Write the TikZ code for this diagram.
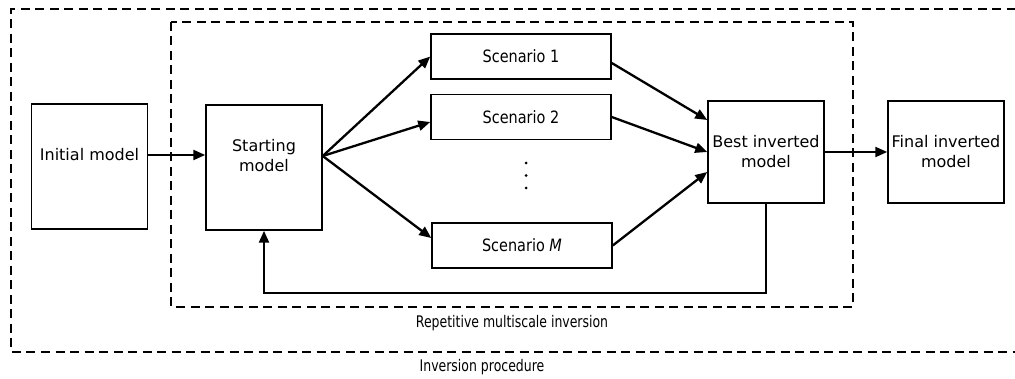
\documentclass[tikz,border=0pt]{standalone}
\usepackage{fontspec}
\setmainfont{DejaVu Sans}
\newfontfamily\narrowfont{DejaVu Sans}[FakeStretch=0.85]
\newfontfamily\captionfont{DejaVu Sans}[FakeStretch=0.78]
\usetikzlibrary{arrows.meta}

\begin{document}
\begin{tikzpicture}[x=1pt,y=-1pt,
  box/.style={draw,line width=1.5pt,minimum width=116pt,inner sep=0pt,align=center,font=\fontsize{16}{20}\selectfont},
  lbl/.style={align=center,inner sep=0pt,font=\fontsize{16}{20}\selectfont},
  scen/.style={draw,line width=1.5pt,minimum width=180pt,minimum height=45pt,inner sep=0pt,font=\narrowfont\fontsize{17}{20}\selectfont},
  flow/.style={line width=2.3pt,-{Triangle[length=12pt,width=10pt]}},
  frame/.style={line width=2.5pt,dash pattern=on 9pt off 5.5pt},
  caption/.style={font=\captionfont\fontsize{16}{19}\selectfont}]
\useasboundingbox (0,0) rectangle (1015,379);
\draw [frame] (1030,9) -- (11,9) -- (11,352) -- (1030,352);
\draw [frame] (171,22) rectangle (853,307);

\node [box,minimum height=125pt] (init) at (89.5,166.5) {};
\node [lbl] (initlbl) at (89.5,155) {Initial model};
\node [box,minimum height=125pt] (start) at (264,167.5) {};
\node [lbl] (startlbl) at (264,156) {Starting\\model};
\node [scen] (s1) at (521,56.5) {Scenario 1};
\node [scen] (s2) at (521,117) {Scenario 2};
\node [scen] (sM) at (522,245.5) {Scenario \textit{M}};
\node [box,minimum height=102pt] (best) at (766,152) {Best inverted\\model};
\node [box,minimum height=102pt] (final) at (946,152) {Final inverted\\model};
\foreach \y in {163,175.5,188}
  \fill (526,\y) circle (1.5pt);

\draw [flow] (initlbl -| init.east) -- (initlbl -| start.west);
\coordinate (fan) at (startlbl -| start.east);
\draw [flow] (fan) -- (s1.west);
\draw [flow] (fan) -- ([yshift=-5pt]s2.west);
\draw [flow] (fan) -- ([yshift=7.5pt]sM.west);
\draw [flow] ([yshift=-6.5pt]s1.east) -- ([yshift=32pt]best.west);
\draw [flow] (s2.east) -- (best.west);
\draw [flow] (sM.east) -- ([yshift=-20pt]best.west);
\draw [flow] (best) -- (final);
\draw [flow] (best.south) -- ++(0,89) -| (start.south);

\node [caption] (inner) at (512,323) {Repetitive multiscale inversion};
\node [caption] (outer) at (482,367) {Inversion procedure};
\end{tikzpicture}
\end{document}
